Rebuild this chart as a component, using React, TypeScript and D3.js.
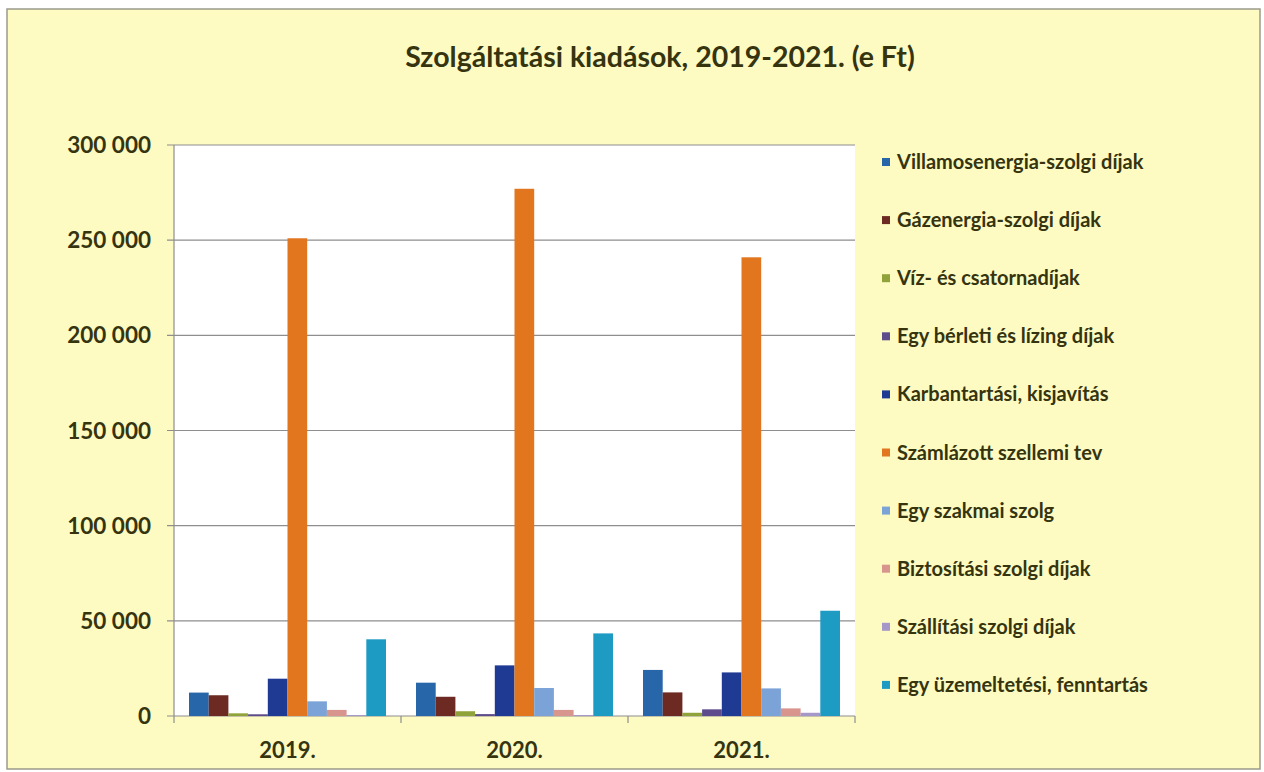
import * as d3 from 'd3';

const years = ['2019.', '2020.', '2021.'];

const seriesNames = [
  'Villamosenergia-szolgi díjak',
  'Gázenergia-szolgi díjak',
  'Víz- és csatornadíjak',
  'Egy bérleti és lízing díjak',
  'Karbantartási, kisjavítás',
  'Számlázott szellemi tev',
  'Egy szakmai szolg',
  'Biztosítási szolgi díjak',
  'Szállítási szolgi díjak',
  'Egy üzemeltetési, fenntartás',
];

// values per series, one per year (e Ft)
const villamos = [12300, 17500, 24200];
const gaz = [10900, 10100, 12400];
const viz = [1400, 2500, 1700];
const berleti = [900, 1000, 3500];
const karbantartas = [19600, 26600, 22900];
const szamlazott = [251000, 277000, 241000];
const szakmai = [7700, 14700, 14500];
const biztositasi = [3200, 3200, 4000];
const szallitasi = [500, 500, 1700];
const uzemeltetesi = [40300, 43400, 55300];

const seriesValues = [
  villamos, gaz, viz, berleti, karbantartas,
  szamlazott, szakmai, biztositasi, szallitasi, uzemeltetesi,
];

const colors = [
  '#2866aa', '#6c2a22', '#8fa33a', '#5d4b8c', '#1f3a92',
  '#e2761f', '#7ba3d8', '#d8958e', '#a597c8', '#1e9bc2',
];

const yTicks = [0, 50000, 100000, 150000, 200000, 250000, 300000];

const W = 1264;
const H = 772;
const font = 'Lato, "Open Sans", sans-serif';
const textColor = '#35340f';

export default function App() {
  const plot = { left: 174, right: 855, top: 145, bottom: 716 };

  const x = d3.scaleBand<string>().domain(years).range([plot.left, plot.right]).padding(0);
  const inner = d3
    .scaleBand<number>()
    .domain(seriesNames.map((_, i) => i))
    .range([15, x.bandwidth() - 15])
    .padding(0);
  const y = d3.scaleLinear().domain([0, 300000]).range([plot.bottom, plot.top]);

  const fmt = (v: number) => d3.format(',')(v).replace(/,/g, ' ');

  const legendX = 882;
  const legendY0 = 162;
  const legendStep = 58.1;

  return (
    <svg
      width={W}
      height={H}
      style={{ position: 'absolute', left: 0, top: 0 }}
    >
      <rect x={0} y={0} width={W} height={H} fill="#ffffff" />
      <rect x={7} y={9} width={1253} height={760} fill="#fdfbc2" stroke="#9a9a8a" strokeWidth={1.5} />

      <text
        x={660}
        y={67}
        textAnchor="middle"
        fontFamily={font}
        fontWeight={700}
        fontSize={28.5}
        fill={textColor}
      >
        Szolgáltatási kiadások, 2019-2021. (e Ft)
      </text>

      {/* plot area */}
      <rect
        x={plot.left}
        y={plot.top}
        width={plot.right - plot.left}
        height={plot.bottom - plot.top}
        fill="#ffffff"
      />

      {/* gridlines */}
      {yTicks.map((t) => (
        <line
          key={t}
          x1={plot.left - 7}
          x2={plot.right}
          y1={y(t)}
          y2={y(t)}
          stroke="#8e8e8e"
          strokeWidth={1.2}
        />
      ))}

      {/* y axis */}
      <line x1={plot.left} x2={plot.left} y1={plot.top} y2={plot.bottom} stroke="#8e8e8e" strokeWidth={1.2} />
      {yTicks.map((t) => (
        <text
          key={t}
          x={151}
          y={y(t) + 8}
          textAnchor="end"
          fontFamily={font}
          fontWeight={700}
          fontSize={22.5}
          fill={textColor}
        >
          {fmt(t)}
        </text>
      ))}

      {/* bars */}
      {years.map((yr, yi) => (
        <g key={yr} transform={`translate(${x(yr)},0)`}>
          {seriesValues.map((vals, si) => (
            <rect
              key={si}
              x={inner(si)!}
              y={y(vals[yi])}
              width={inner.bandwidth()}
              height={plot.bottom - y(vals[yi])}
              fill={colors[si]}
            />
          ))}
        </g>
      ))}

      {/* x axis ticks */}
      {[...years.map((yr) => x(yr)!), plot.right].map((px, i) => (
        <line key={i} x1={px} x2={px} y1={plot.bottom} y2={plot.bottom + 7} stroke="#8e8e8e" strokeWidth={1.2} />
      ))}
      {years.map((yr) => (
        <text
          key={yr}
          x={x(yr)! + x.bandwidth() / 2}
          y={758}
          textAnchor="middle"
          fontFamily={font}
          fontWeight={700}
          fontSize={22}
          fill={textColor}
        >
          {yr}
        </text>
      ))}

      {/* legend */}
      {seriesNames.map((name, i) => (
        <g key={name} transform={`translate(${legendX},${legendY0 + i * legendStep})`}>
          <rect x={0} y={-4} width={8} height={8} fill={colors[i]} />
          <text
            x={15}
            y={7}
            fontFamily={font}
            fontWeight={700}
            fontSize={20}
            fill={textColor}
          >
            {name}
          </text>
        </g>
      ))}
    </svg>
  );
}
